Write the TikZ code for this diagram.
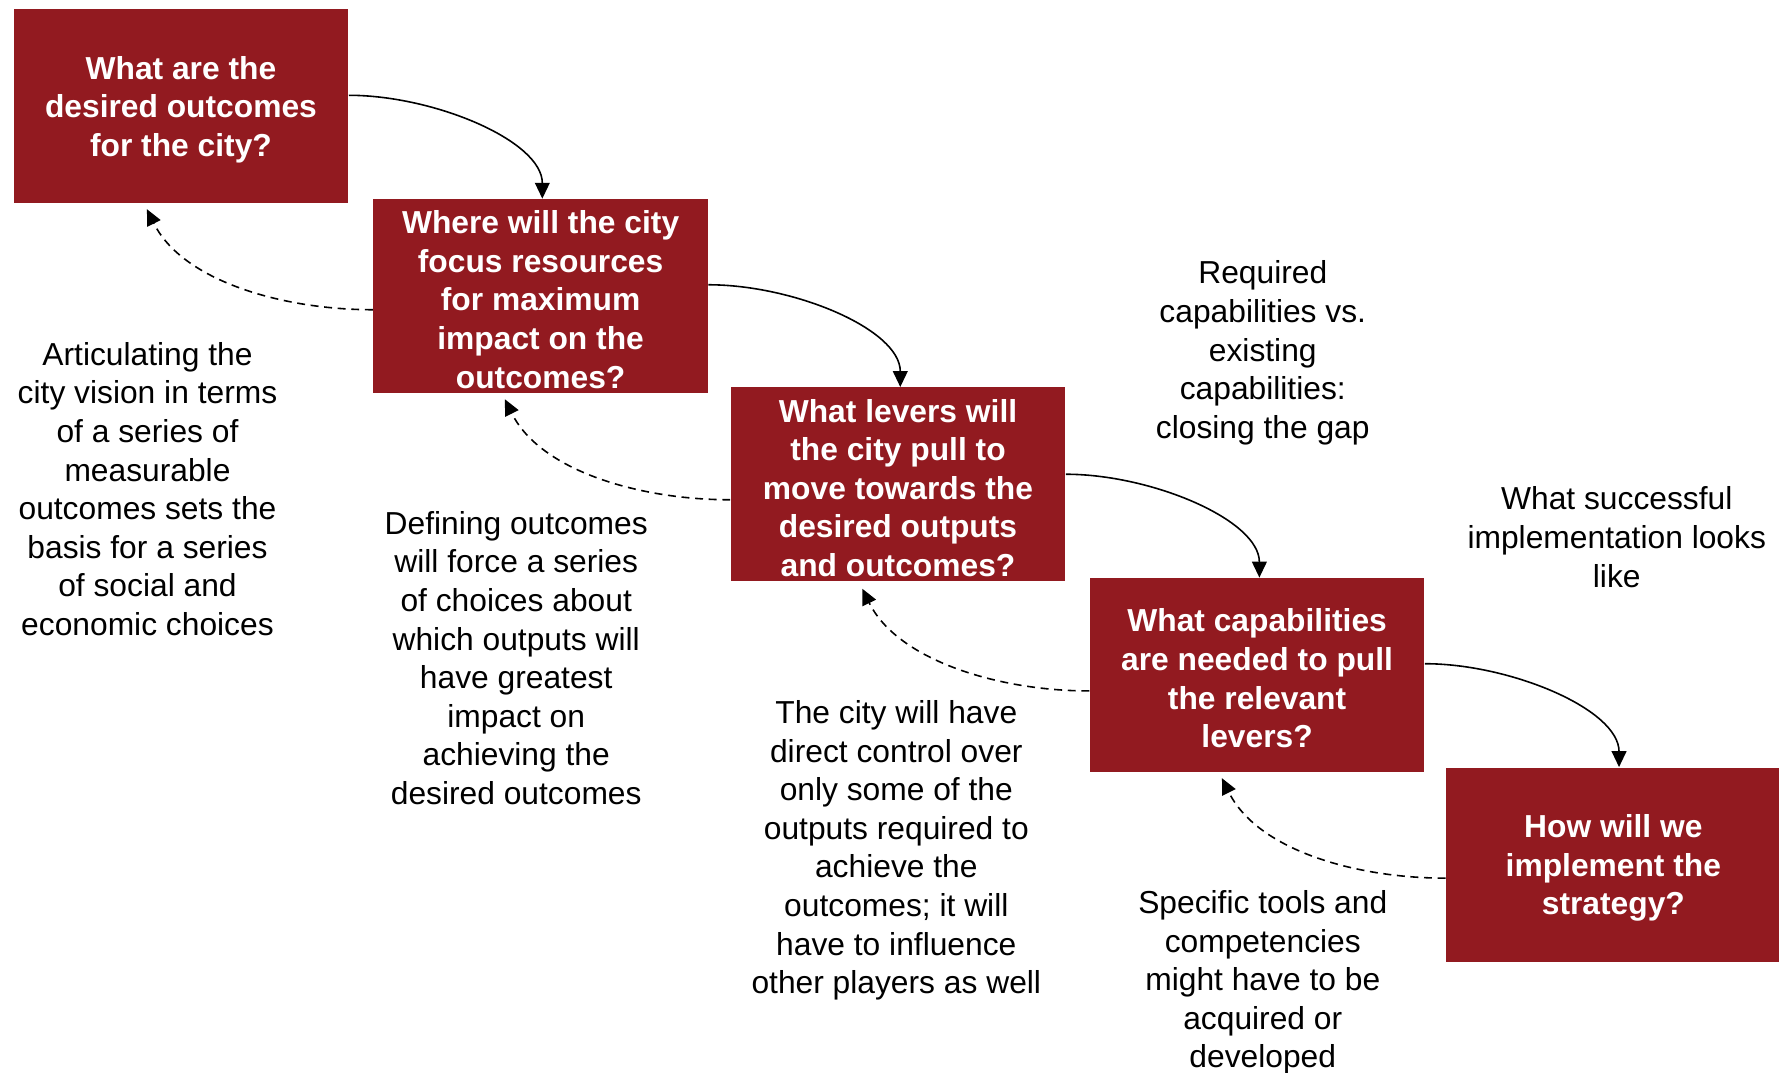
\documentclass[tikz,border=0pt]{standalone}
\usepackage{fontspec}
\setmainfont{Liberation Sans}
\usetikzlibrary{arrows.meta,calc}
\definecolor{boxred}{RGB}{146,26,32}
\begin{document}
\begin{tikzpicture}[x=0.5pt,y=-0.5pt,
  qbox/.style={fill=boxred,draw=none,minimum width=147.5pt,minimum height=85.5pt,inner sep=0pt},
  qtext/.style={text=white,font=\fontsize{14}{17}\selectfont\bfseries,align=center,inner sep=0pt,yshift=-1.5pt},
  note/.style={font=\fontsize{14}{17}\selectfont,align=center,inner sep=0pt,yshift=-1.5pt},
  fwd/.style={line width=0.7pt,-{Triangle[length=7pt,width=6.5pt]}},
  back/.style={fwd,dash pattern=on 3.5pt off 2.5pt}]
\useasboundingbox (0,0) rectangle (1568,945);
\node[qbox] (b1) at (159.5,93.5) {};
\node[qbox] (b2) at (476.5,261) {};
\node[qbox] (b3) at (791.5,427) {};
\node[qbox] (b4) at (1108,595) {};
\node[qbox] (b5) at (1422,762) {};
\node[qtext] (q1) at (b1.center) {What are the\\desired outcomes\\for the city?};
\node[qtext] (q2) at (b2.center) {Where will the city\\focus resources\\for maximum\\impact on the\\outcomes?};
\node[qtext] (q3) at (b3.center) {What levers will\\the city pull to\\move towards the\\desired outputs\\and outcomes?};
\node[qtext] (q4) at (b4.center) {What capabilities\\are needed to pull\\the relevant\\levers?};
\node[qtext] (q5) at (b5.center) {How will we\\implement the\\strategy?};

\node[note] (t1) at (130,428) {Articulating the\\city vision in terms\\of a series of\\measurable\\outcomes sets the\\basis for a series\\of social and\\economic choices};
\node[note] (t2) at (455,577) {Defining outcomes\\will force a series\\of choices about\\which outputs will\\have greatest\\impact on\\achieving the\\desired outcomes};
\node[note] (t3) at (790,746.5) {The city will have\\direct control over\\only some of the\\outputs required to\\achieve the\\outcomes; it will\\have to influence\\other players as well};
\node[note] (t4) at (1113,863) {Specific tools and\\competencies\\might have to be\\acquired or\\developed};
\node[note] (t5) at (1113,308) {Required\\capabilities vs.\\existing\\capabilities:\\closing the gap};
\node[note] (t6) at (1425,470.5) {What successful\\implementation looks\\like};

\draw[fwd] ($(b1.east)+(0,-9.5)$) .. controls +(75,0) and +(0,-51) .. ($(b2.north)+(1.5,0)$);
\draw[fwd] ($(b2.east)+(0,-10)$) .. controls +(75,0) and +(0,-51) .. ($(b3.north)+(2,0)$);
\draw[fwd] ($(b3.east)+(0,-9)$) .. controls +(75,0) and +(0,-51) .. ($(b4.north)+(2,0)$);
\draw[fwd] ($(b4.east)+(0,-10)$) .. controls +(75,0) and +(0,-51) .. ($(b5.north)+(5,0)$);

\draw[back] ($(b2.west)+(0,12)$) .. controls +(-80,0) and +(31,63) .. ($(b1.south)+(-30,5)$);
\draw[back] ($(b3.west)+(0,13.5)$) .. controls +(-80,0) and +(31,63) .. ($(b2.south)+(-31.5,5)$);
\draw[back] ($(b4.west)+(0,14)$) .. controls +(-80,0) and +(31,63) .. ($(b3.south)+(-31.5,6)$);
\draw[back] ($(b5.west)+(0,12)$) .. controls +(-80,0) and +(31,63) .. ($(b4.south)+(-31,5)$);
\end{tikzpicture}
\end{document}
